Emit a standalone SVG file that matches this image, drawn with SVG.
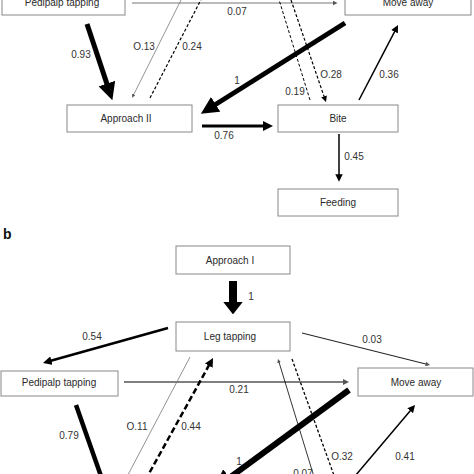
<svg xmlns="http://www.w3.org/2000/svg" width="474" height="474" viewBox="0 0 474 474">
<style>
.box{fill:#fff;stroke:#888;stroke-width:1}
.nt{font-family:"Liberation Sans",Arial,sans-serif;font-size:10px;fill:#2a2a2a;text-anchor:middle}
.lb{font-family:"Liberation Sans",Arial,sans-serif;font-size:10px;fill:#333;text-anchor:middle}
.c{fill:none;stroke:#000}
.g{stroke:#777}
</style>
<defs>
<marker id="ah" viewBox="0 0 10 10" refX="5" refY="5" markerUnits="strokeWidth" markerWidth="3.5" markerHeight="3.5" orient="auto"><path d="M0,0 L10,5 L0,10 z" fill="#000"/></marker>
<marker id="as" viewBox="0 0 10 10" refX="5" refY="5" markerUnits="strokeWidth" markerWidth="5" markerHeight="5" orient="auto"><path d="M0,0 L10,5 L0,10 z" fill="#000"/></marker>
<marker id="asg" viewBox="0 0 10 10" refX="5" refY="5" markerUnits="strokeWidth" markerWidth="5" markerHeight="5" orient="auto"><path d="M0,0 L10,5 L0,10 z" fill="#555"/></marker>
<marker id="ab" viewBox="0 0 10 10" refX="5" refY="5" markerUnits="strokeWidth" markerWidth="1.6" markerHeight="2.5" orient="auto" preserveAspectRatio="none"><path d="M0,0 L10,5 L0,10 z" fill="#000"/></marker>
</defs>
<rect width="474" height="474" fill="#fff"/>

<g id="connectors">
<!-- part a -->
<line class="c g" x1="132" y1="3" x2="335" y2="3" stroke-width="1" marker-end="url(#asg)"/>
<line class="c g" x1="181" y1="0" x2="133" y2="96" stroke-width="0.8" marker-end="url(#asg)"/>
<line class="c" x1="150" y1="98" x2="206" y2="-10" stroke-width="1.2" stroke-dasharray="3,2" marker-end="url(#as)"/>
<line class="c" x1="87" y1="24" x2="109.6" y2="91.9" stroke-width="5" marker-end="url(#ah)"/>
<line class="c" x1="345" y1="23" x2="208.3" y2="109" stroke-width="5" marker-end="url(#ah)"/>
<line class="c" x1="202" y1="126" x2="267.8" y2="126" stroke-width="3" marker-end="url(#ah)"/>
<line class="c" x1="310" y1="100" x2="276" y2="-10" stroke-width="1" stroke-dasharray="3,2" marker-end="url(#as)"/>
<line class="c" x1="291" y1="0" x2="325" y2="99.2" stroke-width="1.2" stroke-dasharray="3,2" marker-end="url(#as)"/>
<line class="c" x1="359" y1="100" x2="396.3" y2="28.3" stroke-width="1.5" marker-end="url(#as)"/>
<line class="c" x1="339" y1="134" x2="339" y2="178" stroke-width="1.5" marker-end="url(#as)"/>
<!-- part b -->
<line class="c" x1="233" y1="281" x2="233" y2="308" stroke-width="8" marker-end="url(#ab)"/>
<line class="c" x1="168" y1="328" x2="47.2" y2="361.8" stroke-width="2.5" marker-end="url(#ah)"/>
<line class="c" x1="302" y1="333" x2="427.8" y2="364.5" stroke="#555" stroke-width="0.9" marker-end="url(#asg)"/>
<line class="c" x1="124" y1="382" x2="346" y2="382" stroke="#555" stroke-width="1.2" marker-end="url(#asg)"/>
<line class="c g" x1="190" y1="357" x2="120" y2="490" stroke="#888" stroke-width="0.8" marker-end="url(#asg)"/>
<line class="c" x1="141" y1="488" x2="210.9" y2="361.8" stroke-width="2.5" stroke-dasharray="6,3" marker-end="url(#ah)"/>
<line class="c" x1="76" y1="405" x2="108" y2="496" stroke-width="4.5" marker-end="url(#ah)"/>
<line class="c" x1="349" y1="390" x2="221" y2="484" stroke-width="6" marker-end="url(#ah)"/>
<line class="c" x1="318" y1="490" x2="278.6" y2="360.9" stroke="#999" stroke-width="0.8" marker-end="url(#asg)"/>
<line class="c" x1="292" y1="359" x2="340" y2="492" stroke-width="1.3" stroke-dasharray="3,2" marker-end="url(#as)"/>
<line class="c" x1="350" y1="482" x2="412.6" y2="407.9" stroke-width="1.5" marker-end="url(#as)"/>
</g>

<g id="labels">
<text class="lb" x="237" y="15">0.07</text>
<text class="lb" x="144" y="50">O.13</text>
<text class="lb" x="192" y="50">0.24</text>
<text class="lb" x="81" y="58">0.93</text>
<text class="lb" x="237" y="84">1</text>
<text class="lb" x="295" y="95">0.19</text>
<text class="lb" x="331" y="78">O.28</text>
<text class="lb" x="389" y="78">0.36</text>
<text class="lb" x="224" y="139">0.76</text>
<text class="lb" x="354" y="160">0.45</text>
<text x="3" y="239" font-family="Liberation Sans,Arial,sans-serif" font-size="14" font-weight="bold" fill="#111">b</text>
<text class="lb" x="251" y="300">1</text>
<text class="lb" x="92" y="340">0.54</text>
<text class="lb" x="372" y="343">0.03</text>
<text class="lb" x="239" y="393">0.21</text>
<text class="lb" x="137" y="430">O.11</text>
<text class="lb" x="191" y="430">0.44</text>
<text class="lb" x="69" y="439">0.79</text>
<text class="lb" x="239" y="465">1</text>
<text class="lb" x="303" y="477">0.07</text>
<text class="lb" x="342" y="460">O.32</text>
<text class="lb" x="405" y="460">0.41</text>
</g>

<g id="a-pedipalp"><rect class="box" x="2" y="-20" width="123" height="35"/><text class="nt" x="62" y="6">Pedipalp tapping</text></g>
<g id="a-moveaway"><rect class="box" x="345" y="-20" width="126" height="35"/><text class="nt" x="408" y="6">Move away</text></g>
<g id="a-approach2"><rect class="box" x="67" y="105" width="125" height="27"/><text class="nt" x="126" y="122">Approach II</text></g>
<g id="a-bite"><rect class="box" x="278" y="105" width="120" height="27"/><text class="nt" x="338" y="122">Bite</text></g>
<g id="a-feeding"><rect class="box" x="278" y="189" width="120" height="27"/><text class="nt" x="338" y="206">Feeding</text></g>
<g id="b-approach1"><rect class="box" x="176" y="246" width="114" height="28"/><text class="nt" x="230" y="264">Approach I</text></g>
<g id="b-legtapping"><rect class="box" x="176" y="322" width="114" height="29"/><text class="nt" x="230" y="340">Leg tapping</text></g>
<g id="b-pedipalp"><rect class="box" x="1" y="371" width="117" height="25"/><text class="nt" x="59" y="386">Pedipalp tapping</text></g>
<g id="b-moveaway"><rect class="box" x="358" y="368" width="115" height="28"/><text class="nt" x="416" y="386">Move away</text></g>
</svg>
